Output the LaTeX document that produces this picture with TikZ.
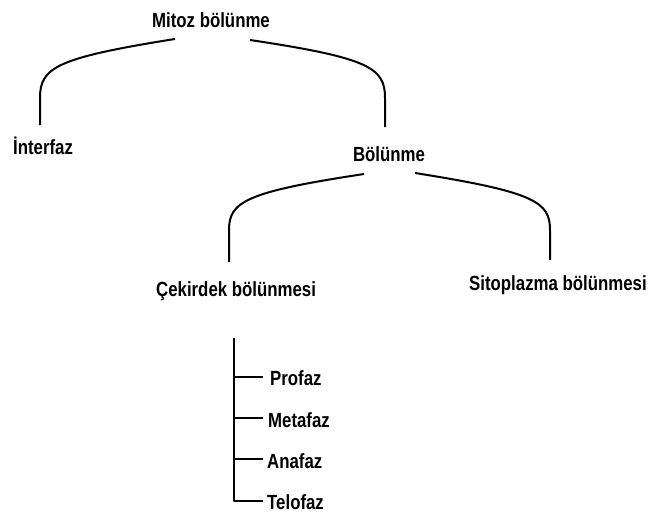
\documentclass[tikz,border=0pt]{standalone}
\usepackage{fontspec}
\setmainfont{Liberation Sans}[FakeStretch=0.82]
\begin{document}
\begin{tikzpicture}[x=1pt,y=-1pt,
  lbl/.style={inner sep=0pt, font=\fontsize{20.5}{24}\selectfont\bfseries},
  conn/.style={line width=2pt, line join=round}]
\useasboundingbox (0,0) rectangle (668,517);
% labels
\node[lbl, anchor=base] (mitoz) at (211,27) {Mitoz bölünme};
\node[lbl, anchor=base west] (interfaz) at (13,154) {İnterfaz};
\node[lbl, anchor=base] (bolunme) at (389,161) {Bölünme};
\node[lbl, anchor=base west] (cekirdek) at (156,296) {Çekirdek bölünmesi};
\node[lbl, anchor=base west] (sito) at (469,290) {Sitoplazma bölünmesi};
\node[lbl, anchor=base west] (profaz) at (270,385) {Profaz};
\node[lbl, anchor=base west] (metafaz) at (268,427) {Metafaz};
\node[lbl, anchor=base west] (anafaz) at (267,468) {Anafaz};
\node[lbl, anchor=base west] (telofaz) at (267,509) {Telofaz};
% connector end points
\coordinate (m1) at (175,39);
\coordinate (m2) at (250,40);
\coordinate (i1) at (40,125);
\coordinate (b0) at (385,127);
\coordinate (b1) at (364,174);
\coordinate (b2) at (415,173);
\coordinate (c0) at (229,262);
\coordinate (s0) at (550,260);
\coordinate (top) at (234,338);
\coordinate (t1) at (234,377);
\coordinate (t2) at (234,418);
\coordinate (t3) at (234,459);
\coordinate (t4) at (234,501);
\coordinate (e1) at (263,377);
\coordinate (e2) at (263,418);
\coordinate (e3) at (263,459);
\coordinate (e4) at (263,501);
% curves
\draw[conn] (m1) .. controls (55,58) and (40,68) .. (40,98) -- (i1);
\draw[conn] (m2) .. controls (370,58) and (385,68) .. (385,98) -- (b0);
\draw[conn] (b1) .. controls (245,192) and (229,202) .. (229,230) -- (c0);
\draw[conn] (b2) .. controls (535,192) and (550,202) .. (550,230) -- (s0);
% bracket
\draw[conn] (top) -- (t4) -- (e4);
\draw[conn] (t1) -- (e1);
\draw[conn] (t2) -- (e2);
\draw[conn] (t3) -- (e3);
\end{tikzpicture}
\end{document}
